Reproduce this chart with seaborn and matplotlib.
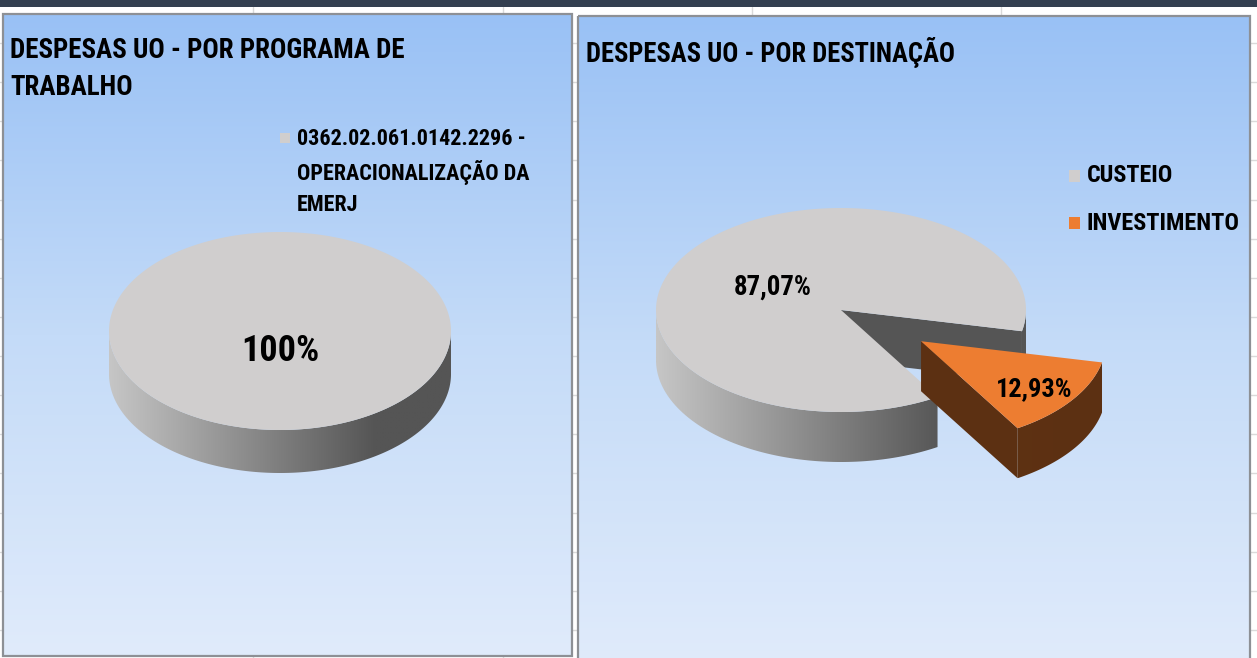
import numpy as np
import matplotlib
matplotlib.use("Agg")
import matplotlib.pyplot as plt
import seaborn as sns
from matplotlib import font_manager
from matplotlib.colors import LinearSegmentedColormap
from matplotlib.patches import Polygon, Rectangle

# ---- data ----
titles = ["DESPESAS UO - POR PROGRAMA DE\nTRABALHO", "DESPESAS UO - POR DESTINAÇÃO"]
prog_labels = ["0362.02.061.0142.2296 -\nOPERACIONALIZAÇÃO DA\nEMERJ"]
prog_values = [100.0]
dest_labels = ["CUSTEIO", "INVESTIMENTO"]
dest_values = [87.07, 12.93]

sns.set_style("white")
names = {f.name for f in font_manager.fontManager.ttflist}
font = next((n for n in ["Liberation Sans Narrow", "Roboto Condensed", "Roboto", "Lato"]
             if n in names), "DejaVu Sans")
plt.rcParams["font.family"] = [font, "DejaVu Sans"]

top_gray = "#d0cece"
orange = "#ed7d31"
gray_side = LinearSegmentedColormap.from_list("gs", [(0, "#c6c6c6"), (0.78, "#555555"), (1, "#555555")])
brown_side = LinearSegmentedColormap.from_list("bs", ["#633516", "#5c3012"])
panel_bg = LinearSegmentedColormap.from_list("bg", ["#99c1f5", "#c4dbf8", "#e0ebfb"])

W, H = 1257, 658
fig = plt.figure(figsize=(W / 100, H / 100), dpi=100)
fig.patch.set_facecolor("white")
ax = fig.add_axes([0, 0, 1, 1])
ax.set_xlim(0, W)
ax.set_ylim(H, 0)
renderer = fig.canvas.get_renderer()


def fit_text(x, y, s, width, **kw):
    # size the bold label so its widest line spans the width seen in the picture
    t = ax.text(x, y, s, fontweight="bold", color="black", zorder=100, fontsize=20, **kw)
    w = t.get_window_extent(renderer).width
    t.set_fontsize(20 * width / w)
    return t


def ell(cx, cy, rx, ry, th):
    t = np.radians(th)
    return cx + rx * np.cos(t), cy - ry * np.sin(t)


def grad_fill(pts, cmap, x0, x1, z):
    poly = Polygon(pts, closed=True, facecolor="none", edgecolor="none", zorder=z)
    ax.add_patch(poly)
    ys = [p[1] for p in pts]
    im = ax.imshow(np.linspace(0, 1, 256)[None, :], cmap=cmap, vmin=0, vmax=1,
                   extent=(x0, x1, max(ys), min(ys)), aspect="auto", zorder=z,
                   interpolation="bilinear")
    im.set_clip_path(poly)


def pie3d(values, tops, sides, cx, cy, rx, ry, depth, start, explode, label_r, label_dy,
          label_w, z):
    total = sum(values)
    a = start
    for i, v in enumerate(values):
        a0, a1 = a, a + 360 * v / total
        a = a1
        mid = (a0 + a1) / 2
        ox = explode[i] * rx * np.cos(np.radians(mid))
        oy = -explode[i] * ry * np.sin(np.radians(mid))
        x0c, y0c = cx + ox, cy + oy
        th = np.linspace(a0, a1, 500)
        ex, ey = ell(x0c, y0c, rx, ry, th)
        zz = z + 3 * i
        # radial faces turned to the viewer
        if len(values) > 1:
            for ang, vis in [(a0, np.cos(np.radians(a0)) > 0), (a1, np.cos(np.radians(a1)) < 0)]:
                if vis:
                    rxp, ryp = ell(x0c, y0c, rx, ry, ang)
                    ax.add_patch(Polygon([(x0c, y0c), (rxp, ryp), (rxp, ryp + depth), (x0c, y0c + depth)],
                                         closed=True, facecolor=sides[i](1.0), edgecolor="none", zorder=zz))
        # front rim
        front = np.sin(np.radians(th)) <= 0
        idx = np.flatnonzero(front)
        if idx.size:
            runs = np.split(idx, np.flatnonzero(np.diff(idx) > 1) + 1)
            for r in runs:
                px, py = ex[r], ey[r]
                pts = list(zip(px, py)) + list(zip(px[::-1], py[::-1] + depth))
                grad_fill(pts, sides[i], x0c - rx, x0c + rx, zz + 1)
        # top face
        pts = [(x0c, y0c)] + list(zip(ex, ey)) if len(values) > 1 else list(zip(ex, ey))
        ax.add_patch(Polygon(pts, closed=True, facecolor=tops[i], edgecolor="none", zorder=zz + 2))
        pct = v / total * 100
        txt = "100%" if round(pct, 2) == 100 else f"{pct:.2f}".replace(".", ",") + "%"
        lx, ly = ell(x0c, y0c, label_r[i] * rx, label_r[i] * ry, mid)
        fit_text(lx, ly + label_dy, txt, label_w[i], ha="center", va="center")


# dark ribbon and worksheet grid
ax.add_patch(Rectangle((0, 0), W, 7, facecolor="#333f50", edgecolor="none", zorder=1))
for x in [253, 503, 752, 1001]:
    ax.plot([x, x], [7, H], color="#dadada", lw=1, zorder=0.5)
for y in np.arange(43, H, 39.13):
    ax.plot([0, W], [y, y], color="#dadada", lw=1, zorder=0.5)

# chart panels
panels = [(3, 14, 572, 656), (578, 16, 1250, 664)]
for (x0, y0, x1, y1) in panels:
    ax.imshow(np.linspace(0, 1, 256)[:, None], cmap=panel_bg, vmin=0, vmax=1,
              extent=(x0, x1, y1, y0), aspect="auto", zorder=2, interpolation="bilinear")
    ax.add_patch(Rectangle((x0, y0), x1 - x0, y1 - y0, facecolor="none",
                           edgecolor="#8d9095", lw=1.6, zorder=3))

# titles
fit_text(10, 69, titles[0], 395, ha="left", va="center", linespacing=1.5)
fit_text(586, 53, titles[1], 369, ha="left", va="center")

# left chart
pie3d(prog_values, [top_gray], [gray_side], 280, 331, 171, 99, 43, 0, [0.0],
      [0.0], 20, [78], 10)
for lab, col in zip(prog_labels, [top_gray]):
    ax.add_patch(Rectangle((280, 133), 10, 10, facecolor=col, edgecolor="none", zorder=30))
    fit_text(297, 172, lab, 233, ha="left", va="center", linespacing=1.5)

# right chart
pie3d(dest_values, [top_gray, orange], [gray_side, brown_side], 841, 310, 185, 102, 50,
      -12, [0.0, 0.53], [0.45, 0.75], 4, [78, 77], 40)
for k, (lab, col, w) in enumerate(zip(dest_labels, [top_gray, orange], [86, 153])):
    yy = 176 + 47 * k
    ax.add_patch(Rectangle((1069, yy - 6), 11, 12, facecolor=col, edgecolor="none", zorder=30))
    fit_text(1087, yy, lab, w, ha="left", va="center")

ax.set_xlim(0, W)
ax.set_ylim(H, 0)
ax.axis("off")
fig.savefig("out.png", dpi=100, facecolor="white")
